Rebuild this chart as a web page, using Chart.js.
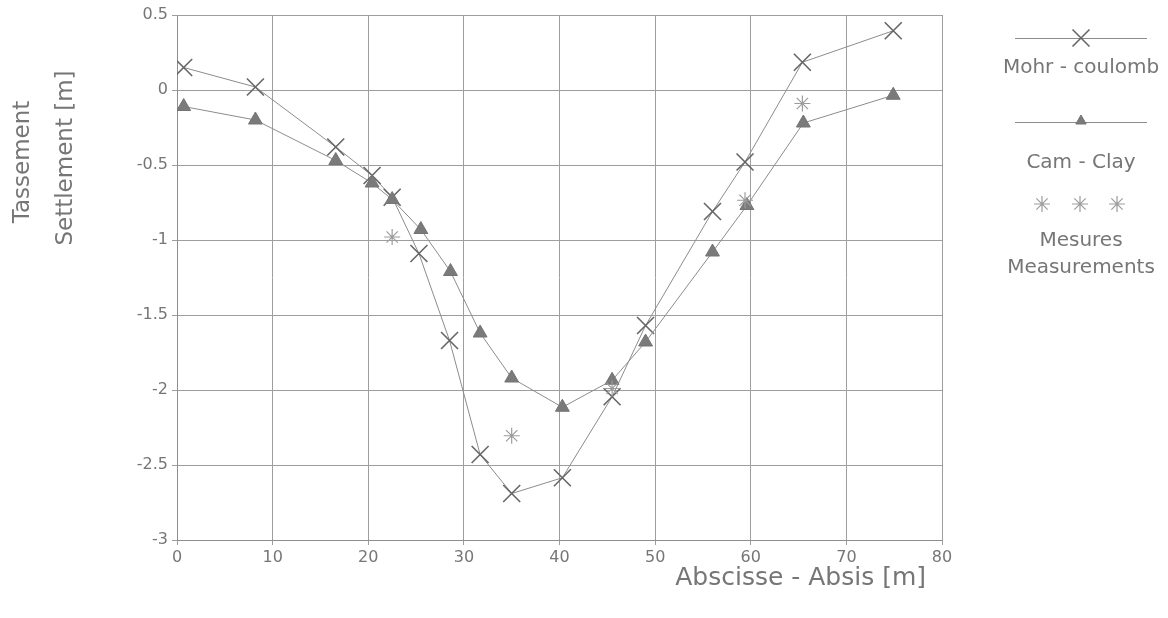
<!DOCTYPE html>
<html>
<head>
<meta charset="utf-8">
<script src="https://cdn.jsdelivr.net/npm/chart.js@4/dist/chart.umd.min.js"></script>
<style>
  html, body { margin: 0; padding: 0; background: #ffffff; }
  #wrap { width: 1168px; height: 618px; }
</style>
</head>
<body>
<div id="wrap"><canvas id="c" width="1168" height="618"></canvas></div>
<script>
// ---- data ----
const mohrX = [0.7, 8.2, 16.6, 20.4, 22.5, 25.3, 28.5, 31.7, 35.0, 40.3, 45.5, 49.0, 56.0, 59.4, 65.4, 74.9];
const mohrY = [0.15, 0.02, -0.38, -0.57, -0.715, -1.09, -1.67, -2.43, -2.69, -2.585, -2.045, -1.57, -0.81, -0.48, 0.185, 0.395];
const camX = [0.7, 8.2, 16.6, 20.4, 22.5, 25.5, 28.6, 31.7, 35.0, 40.3, 45.5, 49.0, 56.0, 59.6, 65.5, 74.9];
const camY = [-0.11, -0.20, -0.47, -0.62, -0.73, -0.93, -1.21, -1.62, -1.92, -2.115, -1.935, -1.68, -1.08, -0.77, -0.22, -0.035];
const mesX = [22.5, 35.0, 45.5, 59.4, 65.4];
const mesY = [-0.98, -2.305, -1.99, -0.735, -0.09];
const seriesNames = ["Mohr - coulomb", "Cam - Clay", ["Mesures", "Measurements"]];
const xTitle = "Abscisse - Absis [m]";
const yTitle = ["Tassement", "Settlement [m]"];

const pts = (xs, ys) => xs.map((x, i) => ({ x: x, y: ys[i] }));

const FONT = "'DejaVu Sans', 'Liberation Sans', Arial, sans-serif";
const TEXT = "#767676";
const LINE = "#8c8c8c";

const titlesAndLegend = {
  id: 'titlesAndLegend',
  afterDraw(chart) {
    const ctx = chart.ctx;
    const ca = chart.chartArea;
    ctx.save();
    ctx.fillStyle = TEXT;
    // x axis title (right aligned near plot end)
    ctx.font = "25px " + FONT;
    ctx.textAlign = 'right';
    ctx.textBaseline = 'middle';
    ctx.fillText(xTitle, ca.right - 16, 578);
    // y axis title (two rotated lines)
    ctx.save();
    ctx.font = "23px " + FONT;
    ctx.textAlign = 'center';
    ctx.textBaseline = 'middle';
    ctx.translate(23, 162);
    ctx.rotate(-Math.PI / 2);
    ctx.fillText(yTitle[0], 0, 0);
    ctx.fillText(yTitle[1], 4, 43);
    ctx.restore();

    // legend
    const cx = 1081;
    const ds = chart.data.datasets;
    ctx.lineWidth = 1;
    // Mohr
    ctx.strokeStyle = LINE;
    ctx.beginPath(); ctx.moveTo(1015, 38.5); ctx.lineTo(1147, 38.5); ctx.stroke();
    ctx.strokeStyle = ds[0].pointBorderColor;
    ctx.fillStyle = ds[0].pointBackgroundColor;
    ctx.lineWidth = ds[0].pointBorderWidth;
    Chart.helpers.drawPoint(ctx, { pointStyle: 'crossRot', radius: ds[0].pointRadius, rotation: 0, borderWidth: ds[0].pointBorderWidth }, cx, 38);
    // Cam
    ctx.lineWidth = 1;
    ctx.strokeStyle = LINE;
    ctx.beginPath(); ctx.moveTo(1015, 122.5); ctx.lineTo(1147, 122.5); ctx.stroke();
    ctx.strokeStyle = ds[1].pointBorderColor;
    ctx.fillStyle = ds[1].pointBackgroundColor;
    Chart.helpers.drawPoint(ctx, { pointStyle: 'triangle', radius: 6, rotation: 0, borderWidth: 1 }, cx, 121);
    // Measures
    ctx.strokeStyle = ds[2].pointBorderColor;
    ctx.lineWidth = ds[2].pointBorderWidth;
    [1042, 1080, 1117].forEach(x => {
      Chart.helpers.drawPoint(ctx, { pointStyle: 'star', radius: ds[2].pointRadius, rotation: 0, borderWidth: ds[2].pointBorderWidth }, x, 204);
    });
    ctx.fillStyle = TEXT;
    ctx.font = "20px " + FONT;
    ctx.textAlign = 'center';
    ctx.textBaseline = 'middle';
    ctx.fillText(seriesNames[0], cx, 68);
    ctx.fillText(seriesNames[1], cx, 163);
    ctx.fillText(seriesNames[2][0], cx, 241);
    ctx.fillText(seriesNames[2][1], cx, 268);
    ctx.restore();
  }
};

const fmt = v => String(Number(Number(v).toFixed(2)));

new Chart(document.getElementById('c'), {
  type: 'scatter',
  data: {
    datasets: [
      {
        label: seriesNames[0],
        data: pts(mohrX, mohrY),
        showLine: true,
        borderColor: LINE,
        borderWidth: 1,
        pointStyle: 'crossRot',
        pointRadius: 12,
        pointBorderWidth: 1.6,
        pointBorderColor: '#666666',
        pointBackgroundColor: '#666666',
        order: 2
      },
      {
        label: seriesNames[1],
        data: pts(camX, camY),
        showLine: true,
        borderColor: LINE,
        borderWidth: 1,
        pointStyle: 'triangle',
        pointRadius: 8,
        pointBorderWidth: 1,
        pointBorderColor: '#747474',
        pointBackgroundColor: '#7a7a7a',
        order: 1
      },
      {
        label: 'Mesures / Measurements',
        data: pts(mesX, mesY),
        showLine: false,
        pointStyle: 'star',
        pointRadius: 8,
        pointBorderWidth: 1.2,
        pointBorderColor: '#9c9c9c',
        pointBackgroundColor: '#9c9c9c',
        order: 0
      }
    ]
  },
  options: {
    responsive: false,
    animation: false,
    layout: { padding: { left: 0, top: 15, right: 226, bottom: 0 } },
    plugins: { legend: { display: false }, tooltip: { enabled: false } },
    scales: {
      x: {
        type: 'linear',
        min: 0, max: 80,
        afterFit(s) { s.height = 78; },
        ticks: { stepSize: 10, color: TEXT, font: { family: FONT, size: 16 }, padding: 3, callback: fmt },
        grid: { color: '#9e9e9e', lineWidth: 1, tickLength: 5 },
        border: { color: '#8e8e8e', width: 1 }
      },
      y: {
        type: 'linear',
        min: -3, max: 0.5,
        afterFit(s) { s.width = 177; },
        ticks: { stepSize: 0.5, color: TEXT, font: { family: FONT, size: 16 }, padding: 4, callback: fmt },
        grid: { color: '#9e9e9e', lineWidth: 1, tickLength: 5 },
        border: { color: '#8e8e8e', width: 1 }
      },
      x2: {
        type: 'linear', position: 'top', min: 0, max: 80,
        afterFit(s) { s.height = 0; },
        ticks: { display: false },
        grid: { display: false, drawTicks: false },
        border: { color: '#9e9e9e', width: 1 }
      },
      y2: {
        type: 'linear', position: 'right', min: -3, max: 0.5,
        afterFit(s) { s.width = 0; },
        ticks: { display: false },
        grid: { display: false, drawTicks: false },
        border: { color: '#9e9e9e', width: 1 }
      }
    }
  },
  plugins: [titlesAndLegend]
});
</script>
</body>
</html>
